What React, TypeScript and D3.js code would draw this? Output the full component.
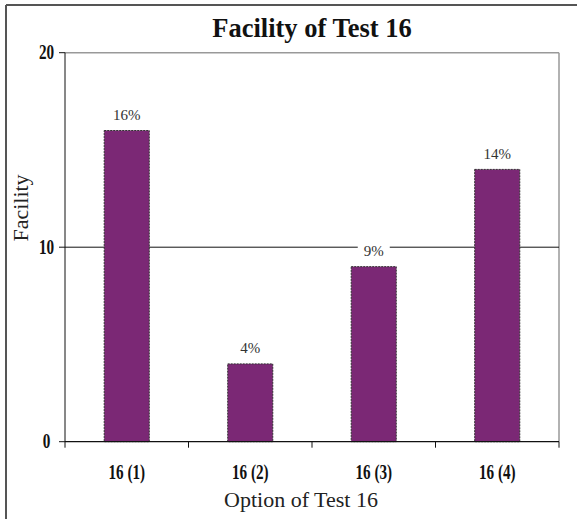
import React from 'react';
import * as d3 from 'd3';

const categories = ['16 (1)', '16 (2)', '16 (3)', '16 (4)'];
const facility = [16, 4, 9, 14];
const yTicks = [0, 10, 20];

const W = 577;
const H = 519;
const margin = { left: 65, right: 18, top: 52.7, bottom: 77.3 };
const serif = '"Liberation Serif", "Times New Roman", serif';
const barColor = '#7b2875';

const App = () => {
    const x = d3
        .scaleBand()
        .domain(categories)
        .range([margin.left, W - margin.right])
        .padding(0);
    const y = d3
        .scaleLinear()
        .domain([0, 20])
        .range([H - margin.bottom, margin.top]);

    const barW = x.bandwidth() * 0.365;
    const left = margin.left;
    const right = W - margin.right;
    const bottom = y(0);
    const top = y(20);

    // condensed bold look of the tick labels
    const tickText = (label, tx, ty, key) => (
        <text
            key={key}
            transform={`translate(${tx},${ty}) scale(0.76,1)`}
            textAnchor="middle"
            fontFamily={serif}
            fontWeight="bold"
            fontSize={20}
            fill="#111"
        >
            {label}
        </text>
    );

    return (
        <svg width={W} height={H} style={{ position: 'absolute', left: 0, top: 0, background: '#fff' }}>
            {/* outer frame */}
            <line x1={6} y1={5} x2={W} y2={5} stroke="#555" strokeWidth={2} />
            <line x1={6} y1={5} x2={6} y2={H} stroke="#555" strokeWidth={2} />

            <text x={(left + right) / 2} y={37} textAnchor="middle" fontFamily={serif} fontWeight="bold" fontSize={26.5} fill="#111">
                Facility of Test 16
            </text>

            {/* plot border top/right */}
            <line x1={left} y1={top} x2={right} y2={top} stroke="#999" strokeWidth={1.5} />
            <line x1={right} y1={top} x2={right} y2={bottom} stroke="#999" strokeWidth={1.5} />

            {/* gridline at 10 */}
            <line x1={left} y1={y(10)} x2={right} y2={y(10)} stroke="#111" strokeWidth={1} />

            {/* y axis */}
            <line x1={left} y1={top} x2={left} y2={bottom} stroke="#111" strokeWidth={1} />
            {yTicks.map((t) => (
                <g key={t}>
                    <line x1={left - 6} y1={y(t)} x2={left} y2={y(t)} stroke="#111" strokeWidth={1} />
                    {tickText(String(t), 46.5, y(t) + 6.5, 'y' + t)}
                </g>
            ))}

            <text
                transform={`translate(28,208) rotate(-90)`}
                textAnchor="middle"
                fontFamily={serif}
                fontSize={22}
                fill="#222"
            >
                Facility
            </text>

            {/* bars */}
            {categories.map((c, i) => {
                const cx = x(c) + x.bandwidth() / 2;
                return (
                    <rect
                        key={c}
                        x={cx - barW / 2}
                        y={y(facility[i])}
                        width={barW}
                        height={bottom - y(facility[i])}
                        fill={barColor}
                        stroke="#333"
                        strokeWidth={1}
                        strokeDasharray="2,1"
                    />
                );
            })}

            {/* x axis */}
            <line x1={left} y1={bottom} x2={right} y2={bottom} stroke="#111" strokeWidth={1.2} />
            {[...categories.map((c) => x(c)), right].map((tx, i) => (
                <line key={i} x1={tx} y1={bottom} x2={tx} y2={bottom + 6} stroke="#111" strokeWidth={1} />
            ))}
            {categories.map((c) => tickText(c, x(c) + x.bandwidth() / 2, 479, 'x' + c))}

            <text x={301} y={507} textAnchor="middle" fontFamily={serif} fontSize={22} fill="#222">
                Option of Test 16
            </text>

            {/* value labels */}
            {categories.map((c, i) => {
                const cx = x(c) + x.bandwidth() / 2;
                const ly = y(facility[i]) - 10.5;
                const crossesGrid = Math.abs(ly - 5 - y(10)) < 8;
                return (
                    <g key={'l' + c}>
                        {crossesGrid && <rect x={cx - 16} y={ly - 12} width={32} height={16} fill="#fff" />}
                        <text x={cx} y={ly} textAnchor="middle" fontFamily={serif} fontSize={15} fill="#333">
                            {facility[i]}%
                        </text>
                    </g>
                );
            })}
        </svg>
    );
};

export default App;
